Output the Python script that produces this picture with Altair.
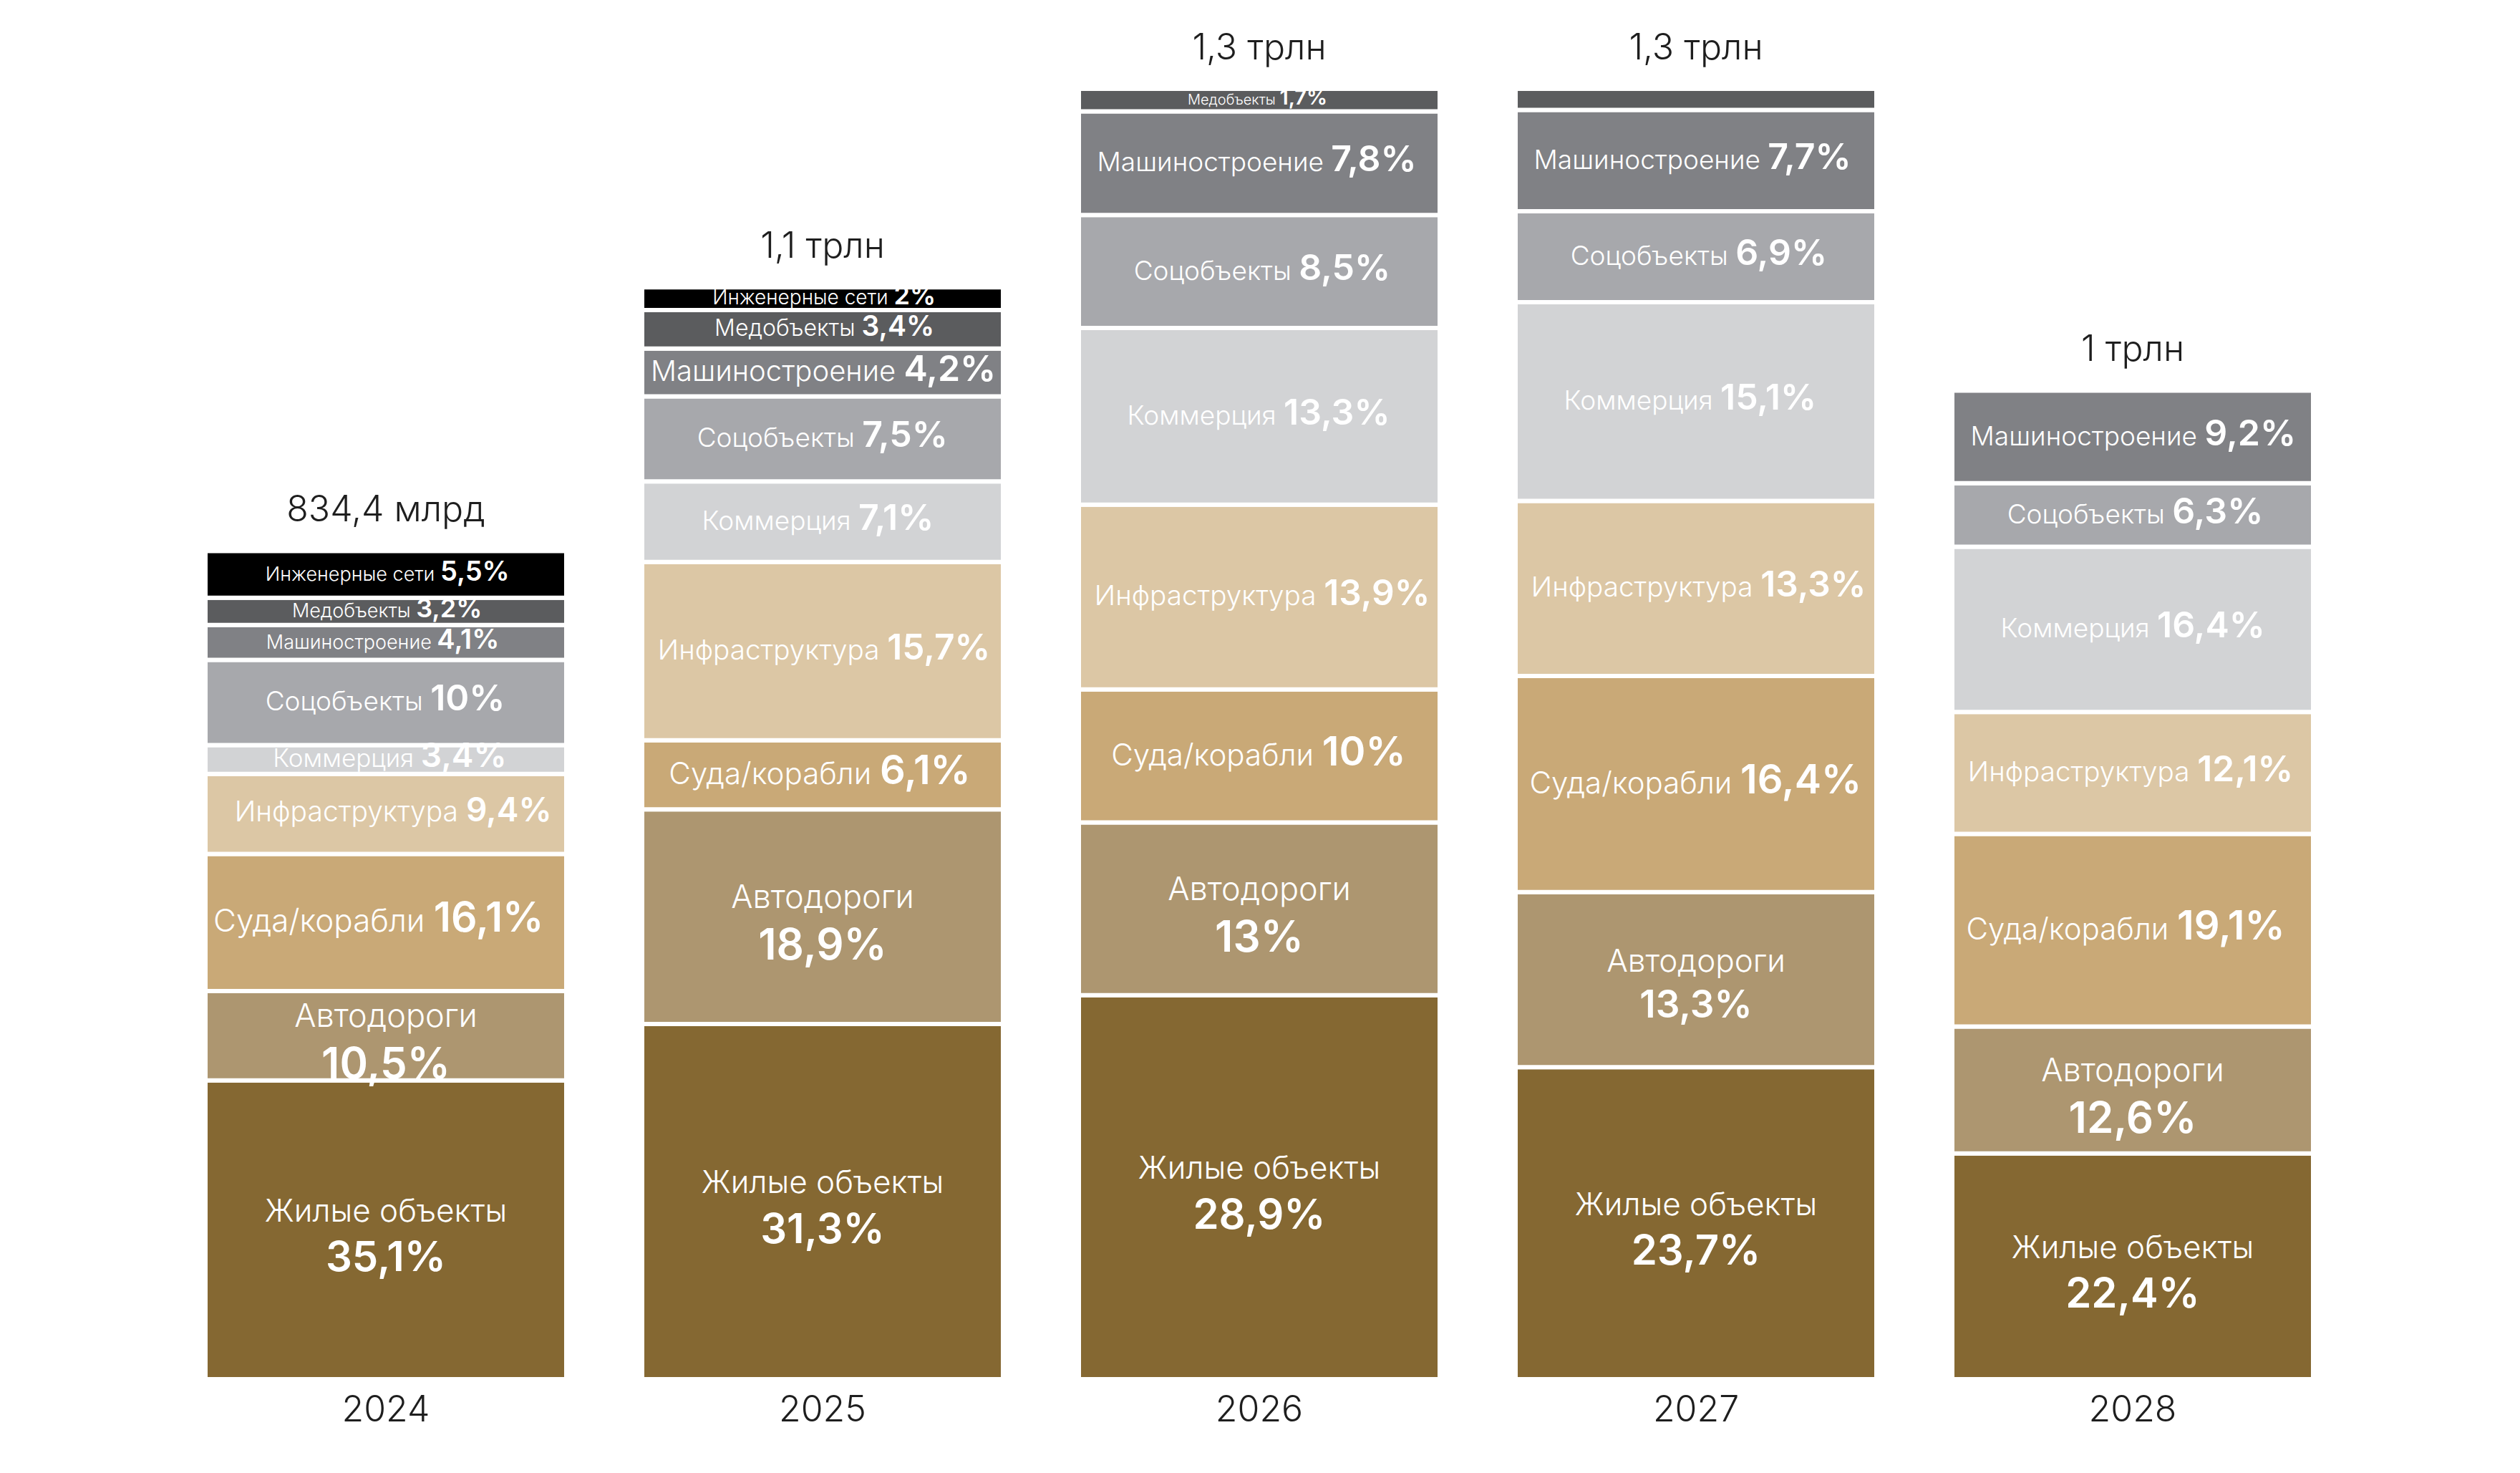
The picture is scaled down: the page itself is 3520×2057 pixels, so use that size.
import altair as alt
import pandas as pd

# ---------------- data ----------------
years = ["2024", "2025", "2026", "2027", "2028"]
totals_bn = [834.4, 1100, 1300, 1300, 996]
total_labels = ["834,4 млрд", "1,1 трлн", "1,3 трлн", "1,3 трлн", "1 трлн"]

categories = ["Жилые объекты", "Автодороги", "Суда/корабли", "Инфраструктура",
              "Коммерция", "Соцобъекты", "Машиностроение", "Медобъекты",
              "Инженерные сети"]

share_zhilye = [35.1, 31.3, 28.9, 23.7, 22.4]
share_avto = [10.5, 18.9, 13.0, 13.3, 12.6]
share_suda = [16.1, 6.1, 10.0, 16.4, 19.1]
share_infra = [9.4, 15.7, 13.9, 13.3, 12.1]
share_kommer = [3.4, 7.1, 13.3, 15.1, 16.4]
share_soc = [10.0, 7.5, 8.5, 6.9, 6.3]
share_mash = [4.1, 4.2, 7.8, 7.7, 9.2]
share_med = [3.2, 3.4, 1.7, 1.6, None]
share_inzh = [5.5, 2.0, None, None, None]

shares = [share_zhilye, share_avto, share_suda, share_infra, share_kommer,
          share_soc, share_mash, share_med, share_inzh]

unlabelled = {("2027", "Медобъекты")}

# ---------------- styles ----------------
colors = ["#856832", "#AD9670", "#C9A977", "#DCC7A5", "#D2D3D5",
          "#A7A8AC", "#808185", "#5B5C5E", "#000000"]
FONT = "Inter"
PAD_INNER = 0.1738
PLOT_W = 2944
PLOT_H = 1802
Y_MAX = 1300
PX_TO_VAL = Y_MAX / PLOT_H
STEP = PLOT_W / (len(years) - PAD_INNER)
HALF_BAND = STEP * (1 - PAD_INNER) / 2   # offsets are measured from band start

stacked_cats = {"Жилые объекты": (44, 58), "Автодороги": (45, 60)}
inline_base = {"Суда/корабли": (42, 56), "Инфраструктура": (39, 50)}
size_override = {
    ("2024", "Инженерные сети"): (27, 38), ("2024", "Медобъекты"): (27, 36),
    ("2024", "Машиностроение"): (27, 38), ("2024", "Коммерция"): (35, 46),
    ("2024", "Суда/корабли"): (46, 60), ("2024", "Инфраструктура"): (39, 46),
    ("2025", "Инженерные сети"): (28, 36), ("2025", "Медобъекты"): (32, 39),
    ("2025", "Машиностроение"): (40, 50), ("2026", "Медобъекты"): (20, 29),
    ("2027", "Автодороги"): (44, 53),
}
MAX_W = 486


def est_width(text, fs, bold=False):
    w = 0.0
    for ch in text:
        if ch == " ":
            w += 0.27
        elif ch in ",.":
            w += 0.28
        elif ch == "%":
            w += 0.88
        elif ch == "/":
            w += 0.38
        elif ch.isdigit():
            w += 0.64 if bold else 0.6
        elif ch in "шщжмюШЩЖМЮф":
            w += 0.8
        elif ch == "ы":
            w += 0.74
        elif ch.isupper():
            w += 0.7
        else:
            w += 0.57
    return w * fs


def fmt_pct(v):
    if abs(v - round(v)) < 1e-9:
        return f"{int(round(v))}%"
    return f"{v:.1f}".replace(".", ",") + "%"


rows = []
for yi, year in enumerate(years):
    present = [s[yi] for s in shares if s[yi] is not None]
    ssum = sum(present)
    for ci, cat in enumerate(categories):
        v = shares[ci][yi]
        if v is None:
            continue
        value = totals_bn[yi] * v / ssum
        pct = fmt_pct(v)
        stacked = cat in stacked_cats
        nfs, pfs = stacked_cats.get(cat, inline_base.get(cat, (37, 50)))
        nfs, pfs = size_override.get((year, cat), (nfs, pfs))
        if stacked:
            layout = "stacked"
            ndx = pdx = 0.0
            ndy = -0.2 * pfs
            pdy = 1.0 * pfs
        else:
            layout = "inline"
            gap = 0.28 * nfs
            wn = est_width(cat, nfs)
            wp = est_width(pct, pfs, bold=True)
            tot = wn + gap + wp
            if tot > MAX_W:
                k = MAX_W / tot
                nfs, pfs = nfs * k, pfs * k
                gap, wn, wp, tot = gap * k, wn * k, wp * k, MAX_W
            ndx = -tot / 2 + wn
            pdx = ndx + gap
            ndy = pdy = 0.23 * pfs
        if (year, cat) in unlabelled:
            layout = "none"
        rows.append(dict(year=year, cat=cat, order=ci, value=value, pct=pct,
                         layout=layout, nfs=nfs, pfs=pfs,
                         ndx=ndx + HALF_BAND, pdx=pdx + HALF_BAND,
                         ndy=ndy, pdy=pdy))

df = pd.DataFrame(rows)
df_tot = pd.DataFrame(dict(year=years, total=totals_bn, label=total_labels,
                           zero=[0] * len(years)))

# ---------------- chart ----------------
x_enc = alt.X("year:N", scale=alt.Scale(domain=years, paddingInner=PAD_INNER,
                                        paddingOuter=0), axis=None)
y_scale = alt.Scale(domain=[0, Y_MAX], nice=False, zero=True)

base = (alt.Chart(df)
        .transform_stack(stack="value", groupby=["year"], as_=["y0", "y1"],
                         sort=[alt.SortField("order", order="ascending")])
        .transform_calculate(
            mid="(datum.y0 + datum.y1) / 2",
            ny=f"(datum.y0 + datum.y1) / 2 - datum.ndy * {PX_TO_VAL}",
            py=f"(datum.y0 + datum.y1) / 2 - datum.pdy * {PX_TO_VAL}"))

bars = base.mark_bar(stroke="white", strokeWidth=6).encode(
    x=x_enc,
    y=alt.Y("y1:Q", scale=y_scale, axis=None),
    y2="y0:Q",
    color=alt.Color("cat:N", scale=alt.Scale(domain=categories, range=colors),
                    legend=None),
)


def text_layer(layout, which, align, weight):
    fs = "nfs" if which == "name" else "pfs"
    dx = "ndx" if which == "name" else "pdx"
    yy = "ny" if which == "name" else "py"
    txt = "cat" if which == "name" else "pct"
    return base.transform_filter(alt.datum.layout == layout).mark_text(
        align=align, baseline="alphabetic", font=FONT, fontWeight=weight,
        color="white").encode(
        x=x_enc,
        y=alt.Y(f"{yy}:Q", scale=y_scale, axis=None),
        xOffset=alt.XOffset(f"{dx}:Q", scale=None),
        size=alt.Size(f"{fs}:Q", scale=None, legend=None),
        text=f"{txt}:N",
    )


inline_name = text_layer("inline", "name", "right", 300)
inline_pct = text_layer("inline", "pct", "left", 600)
stack_name = text_layer("stacked", "name", "center", 300)
stack_pct = text_layer("stacked", "pct", "center", 600)

titles = alt.Chart(df_tot).mark_text(
    baseline="alphabetic", dy=-41, fontSize=50, font=FONT, fontWeight=300,
    color="#1e1e1e").encode(
    x=x_enc, y=alt.Y("total:Q", scale=y_scale, axis=None), text="label:N")

year_labels = alt.Chart(df_tot).mark_text(
    baseline="alphabetic", dy=59, fontSize=50, font=FONT, fontWeight=300,
    color="#1e1e1e").encode(
    x=x_enc, y=alt.Y("zero:Q", scale=y_scale, axis=None), text="year:N")

chart = alt.layer(bars, inline_name, inline_pct, stack_name, stack_pct,
                  titles, year_labels).properties(
    width=PLOT_W, height=PLOT_H, autosize="none",
    padding={"left": 279, "top": 116, "right": 281, "bottom": 123},
    background="white",
).configure_view(stroke=None)

chart.save("out.html", embed_options={"renderer": "svg", "actions": False})
